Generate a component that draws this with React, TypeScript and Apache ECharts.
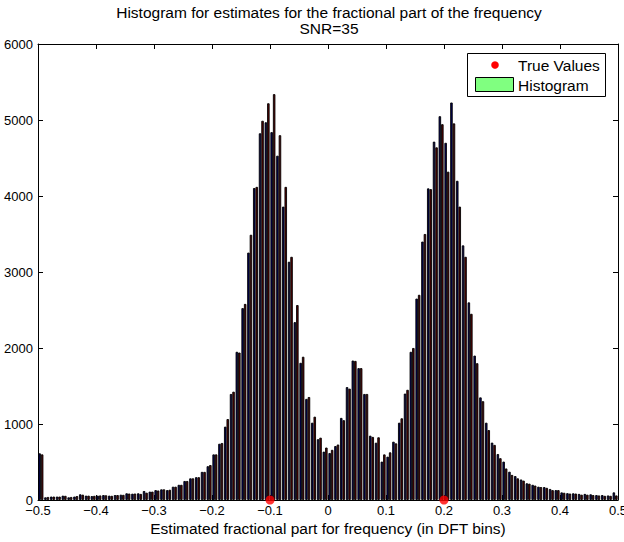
import React, { useEffect, useRef } from "react";
import * as echarts from "echarts";

// Histogram bins: first bin centre and bin width (DFT-bin units)
const BIN_START = -0.495;
const BIN_WIDTH = 0.01;

// Column 1 (dark blue) counts per bin
const blueCounts = [
  614, 35, 45, 45, 57, 35, 45, 75, 57, 52,
  57, 65, 57, 65, 70, 88, 83, 88, 118, 110,
  130, 140, 130, 175, 200, 250, 285, 300, 370, 445,
  600, 740, 965, 1395, 1950, 2525, 3255, 4105, 4825, 4970,
  4840, 4530, 3860, 3135, 2340, 1805, 1330, 1017, 800, 636,
  618, 710, 1080, 1485, 1835, 1735, 1395, 846, 754, 505,
  570, 767, 1017, 1400, 1950, 2650, 3400, 4100, 4715, 5050,
  4700, 5230, 4200, 3350, 2600, 1900, 1350, 1017, 755, 605,
  505, 372, 315, 270, 220, 200, 175, 170, 145, 130,
  100, 90, 88, 80, 80, 75, 65, 65, 60, 100,
];

// Column 2 (dark red) counts per bin
const redCounts = [
  600, 40, 45, 45, 55, 40, 52, 70, 57, 55,
  60, 62, 55, 65, 68, 85, 85, 80, 96, 110,
  125, 140, 135, 175, 200, 250, 285, 300, 370, 460,
  600, 750, 1065, 1425, 1940, 2580, 3490, 4120, 4990, 5220,
  5340, 4800, 4120, 3200, 2565, 1885, 1355, 1096, 820, 690,
  660, 730, 1050, 1465, 1830, 1735, 1395, 830, 825, 600,
  627, 745, 1075, 1450, 2000, 2700, 3500, 4090, 4640, 4945,
  4320, 4955, 3860, 3200, 2450, 1800, 1300, 920, 725, 550,
  415, 330, 285, 255, 215, 190, 170, 160, 130, 130,
  95, 85, 85, 70, 70, 65, 60, 55, 55, 60,
];

// True fractional frequencies
const trueValues = [-0.1, 0.2];

const xTicks = { min: -0.5, max: 0.5, interval: 0.1 };
const yTicks = { min: 0, max: 6000, interval: 1000 };

const TITLE_1 = "Histogram for estimates for the fractional part of the frequency";
const TITLE_2 = "SNR=35";
const X_LABEL = "Estimated fractional part for frequency (in DFT bins)";
const LEGEND_LABELS = ["True Values", "Histogram"];

const FONT = "'Liberation Sans', Arial, Helvetica, sans-serif";
const BIG = 15.5;

export default function App() {
  const ref = useRef<HTMLDivElement>(null);

  useEffect(() => {
    if (!ref.current) return;
    const chart = echarts.init(ref.current, undefined, { renderer: "svg" });

    const binCenters = blueCounts.map((_, i) =>
      Number((BIN_START + i * BIN_WIDTH).toFixed(3))
    );

    const fmtX = (v: number) => {
      const r = Math.round(v * 10) / 10;
      if (r === 0) return "0";
      return (r < 0 ? "\u2212" : "") + Math.abs(r).toString();
    };
    const fmtY = (v: number) => String(Math.round(v));

    const tickStyle = { color: "#000", width: 1 };
    const labelStyle = { color: "#000", fontSize: 13, fontFamily: FONT };

    const txt = (text: string, x: number, y: number, align: string, z = 21) => ({
      type: "text",
      x,
      y,
      z,
      style: {
        text,
        fill: "#000",
        fontSize: BIG,
        fontFamily: FONT,
        align,
        verticalAlign: "middle",
        textAlign: align,
        textVerticalAlign: "middle",
      },
    });

    const option: any = {
      animation: false,
      backgroundColor: "#fff",
      grid: {
        left: 38,
        right: 6,
        top: 44,
        bottom: 42,
        containLabel: false,
        outerBoundsMode: "none",
      },
      xAxis: [
        {
          type: "value",
          position: "bottom",
          ...xTicks,
          axisLine: { show: true, onZero: false, lineStyle: tickStyle },
          axisTick: { show: true, inside: true, length: 5, lineStyle: tickStyle },
          axisLabel: { ...labelStyle, margin: 4, formatter: fmtX, hideOverlap: false },
          splitLine: { show: false },
        },
        {
          type: "value",
          position: "top",
          ...xTicks,
          axisLine: { show: true, onZero: false, lineStyle: tickStyle },
          axisTick: { show: true, inside: true, length: 5, lineStyle: tickStyle },
          axisLabel: { show: false },
          splitLine: { show: false },
        },
      ],
      yAxis: [
        {
          type: "value",
          position: "left",
          ...yTicks,
          axisLine: { show: true, onZero: false, lineStyle: tickStyle },
          axisTick: { show: true, inside: true, length: 5, lineStyle: tickStyle },
          axisLabel: { ...labelStyle, margin: 5, formatter: fmtY },
          splitLine: { show: false },
        },
        {
          type: "value",
          position: "right",
          ...yTicks,
          axisLine: { show: true, onZero: false, lineStyle: tickStyle },
          axisTick: { show: true, inside: true, length: 5, lineStyle: tickStyle },
          axisLabel: { show: false },
          splitLine: { show: false },
        },
      ],
      series: [
        {
          type: "bar",
          name: "Column 1",
          xAxisIndex: 0,
          yAxisIndex: 0,
          data: binCenters.map((x, i) => [x, blueCounts[i]]),
          barWidth: 2.5,
          barGap: "0%",
          itemStyle: { color: "#00005a", borderColor: "#000", borderWidth: 0.9 },
        },
        {
          type: "bar",
          name: "Column 2",
          xAxisIndex: 0,
          yAxisIndex: 0,
          data: binCenters.map((x, i) => [x, redCounts[i]]),
          barWidth: 2.5,
          barGap: "0%",
          itemStyle: { color: "#580000", borderColor: "#000", borderWidth: 0.9 },
        },
        {
          type: "scatter",
          name: LEGEND_LABELS[0],
          xAxisIndex: 0,
          yAxisIndex: 0,
          data: trueValues.map((v) => [v, 0]),
          symbol: "circle",
          symbolSize: 9,
          clip: false,
          z: 10,
          itemStyle: { color: "#ff0000" },
        },
      ],
      graphic: [
        txt(TITLE_1, 329, 12, "center", 1),
        txt(TITLE_2, 329, 28, "center", 1),
        txt(X_LABEL, 328, 528, "center", 1),
        {
          type: "rect",
          shape: { x: 467.5, y: 53.5, width: 138, height: 43 },
          style: { fill: "#fff", stroke: "#000", lineWidth: 1 },
          z: 20,
        },
        {
          type: "circle",
          shape: { cx: 495, cy: 65, r: 3.8 },
          style: { fill: "#ff0000" },
          z: 21,
        },
        txt(LEGEND_LABELS[0], 518, 65, "left"),
        {
          type: "rect",
          shape: { x: 475.5, y: 77.5, width: 38, height: 14 },
          style: { fill: "#80ff80", stroke: "#000", lineWidth: 1 },
          z: 21,
        },
        txt(LEGEND_LABELS[1], 518, 85, "left"),
      ],
    };

    chart.setOption(option);
    return () => chart.dispose();
  }, []);

  return (
    <div
      ref={ref}
      style={{ position: "fixed", left: 0, top: 0, width: 624, height: 542, background: "#fff" }}
    />
  );
}
